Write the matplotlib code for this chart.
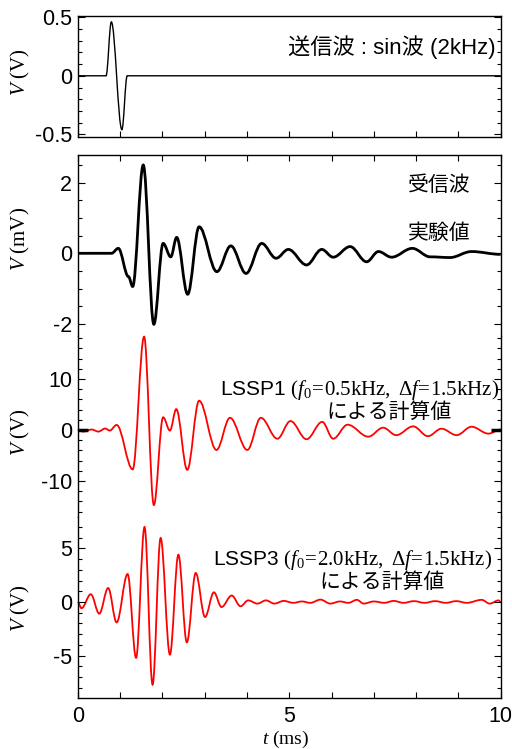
import numpy as np
import matplotlib
matplotlib.use("Agg")
import matplotlib.pyplot as plt
from matplotlib.path import Path
from matplotlib.patches import PathPatch
from matplotlib.ticker import MultipleLocator

# ---- fonts ----
plt.rcParams['font.family'] = ['Liberation Sans', 'Noto Sans CJK JP']
plt.rcParams['mathtext.fontset'] = 'custom'
plt.rcParams['mathtext.rm'] = 'Liberation Serif'
plt.rcParams['mathtext.it'] = 'Liberation Serif:italic'
plt.rcParams['axes.unicode_minus'] = False

# ---- data: turning points of each waveform (t in ms) ----
# transmitted pulse, one cycle of a 2 kHz sine
tx_t = [0.0, 0.67, 0.795, 1.045, 1.17, 10.0]
tx_v = [0.0, 0.0, 0.46, -0.46, 0.0, 0.0]

# received wave, measured (mV)
rx_t = [0.0, 0.80, 0.96, 1.20, 1.30, 1.55, 1.80, 2.02, 2.20, 2.34, 2.60, 2.87,
        3.29, 3.62, 3.98, 4.35, 4.69, 4.98, 5.41, 5.77, 6.04, 6.44, 6.83,
        7.11, 7.42, 7.91, 8.33, 8.80, 9.31, 10.0]
rx_v = [0.0, 0.0, 0.14, -0.66, -0.94, 2.50, -2.01, 0.28, -0.10, 0.45, -1.16,
        0.75, -0.52, 0.21, -0.57, 0.28, -0.14, 0.11, -0.33, 0.11, -0.11,
        0.19, -0.24, 0.05, -0.11, 0.14, -0.10, -0.12, 0.05, -0.03]

# LSSP1 calculation (V)
l1_t = [0.0, 0.13, 0.33, 0.49, 0.65, 0.76, 0.92, 1.30, 1.57, 1.80, 2.02, 2.18,
        2.33, 2.59, 2.87, 3.28, 3.60, 4.01, 4.33, 4.72, 5.03, 5.41, 5.78,
        6.04, 6.38, 6.87, 7.22, 7.53, 7.93, 8.28, 8.60, 8.96, 9.31, 9.71, 10.0]
l1_v = [0.0, -0.3, 0.1, -0.3, 0.3, -0.1, 1.0, -7.7, 18.3, -14.7, 2.5, -0.1,
        4.1, -7.8, 5.75, -3.9, 2.4, -3.9, 2.4, -1.7, 1.76, -1.8, 1.6, -1.7,
        1.05, -1.3, 0.46, -1.0, 0.72, -1.2, 0.26, -1.0, 0.65, -0.7, 0.1]

# LSSP3 calculation (V)
l3_t = [0.0, 0.09, 0.31, 0.51, 0.72, 0.92, 1.18, 1.38, 1.58, 1.77, 1.96, 2.18,
        2.38, 2.58, 2.79, 3.01, 3.22, 3.40, 3.64, 3.85, 4.03, 4.25, 4.45,
        4.65, 4.87, 5.10, 5.30, 5.50, 5.74, 5.97, 6.20, 6.40, 6.60, 6.76,
        7.00, 7.25, 7.47, 7.70, 7.95, 8.20, 8.45, 8.70, 8.95, 9.20, 9.55,
        9.74, 9.95, 10.0]
l3_v = [0.0, -0.58, 0.72, -1.09, 1.30, -1.9, 2.6, -5.2, 6.98, -7.7, 5.96,
        -4.9, 4.4, -3.76, 2.7, -1.4, 0.9, -0.47, 0.6, -0.4, 0.15, -0.15,
        0.15, -0.15, 0.10, -0.08, 0.05, -0.08, 0.22, -0.15, 0.05, -0.08,
        0.20, -0.15, 0.05, -0.08, 0.10, -0.08, 0.08, -0.08, 0.08, -0.08,
        0.08, -0.08, 0.20, -0.15, 0.15, 0.0]


def wave_path(t, v, c=0.36):
    # smooth curve through the turning points, flat tangent at each one
    verts = [(t[0], v[0])]
    codes = [Path.MOVETO]
    for i in range(len(t) - 1):
        dt = t[i + 1] - t[i]
        verts += [(t[i] + c * dt, v[i]), (t[i + 1] - c * dt, v[i + 1]),
                  (t[i + 1], v[i + 1])]
        codes += [Path.CURVE4] * 3
    return Path(verts, codes)


W, H = 512, 749
fig = plt.figure(figsize=(W / 100, H / 100), dpi=100)


def box(x0, y0, x1, y1):
    return [x0 / W, 1 - y1 / H, (x1 - x0) / W, (y1 - y0) / H]


L, R = 77.7, 500.7
ax0 = fig.add_axes(box(L, 15.7, R, 136.7))
top, bot = 155.0, 697.7
hh = (bot - top) / 3
axA = fig.add_axes(box(L, top, R, top + hh))
axB = fig.add_axes(box(L, top + hh, R, top + 2 * hh))
axC = fig.add_axes(box(L, top + 2 * hh, R, bot))

FS = 15.5
for ax in (ax0, axA, axB, axC):
    ax.set_xlim(0, 10)
    ax.xaxis.set_major_locator(MultipleLocator(5))
    ax.xaxis.set_minor_locator(MultipleLocator(1))
    ax.tick_params(which='both', direction='in', left=True, right=True,
                   width=0.8, labelsize=FS, pad=4)
    ax.tick_params(which='major', axis='y', length=5)
    ax.tick_params(which='minor', axis='y', length=3)
    ax.tick_params(which='both', axis='x', length=4.3, top=False,
                   bottom=False, labelbottom=False)
    for s in ax.spines.values():
        s.set_linewidth(1.0)

# sending pulse
ax0.set_ylim(-0.52, 0.513)
ax0.yaxis.set_minor_locator(MultipleLocator(0.1))
ax0.set_yticks([-0.5, 0, 0.5], ['-0.5', '0', '0.5'])
ax0.tick_params(which='both', axis='x', bottom=True)
ax0.add_patch(PathPatch(wave_path(tx_t, tx_v), fill=False, ec='black', lw=1.0))
ax0.text(0.987, 0.741, '送信波 : sin波 (2kHz)', transform=ax0.transAxes,
         ha='right', va='center', fontsize=16)

# received, measured
axA.set_ylim(-2.34, 2.785)
axA.set_yticks([-2, 0, 2], ['-2', '0', '2'])
axA.yaxis.set_minor_locator(MultipleLocator(0.5))
axA.spines['bottom'].set_visible(False)
axA.tick_params(which='both', axis='x', top=True)
axA.add_patch(PathPatch(wave_path(rx_t, rx_v), fill=False, ec='black', lw=2.0))
axA.text(0.854, 0.834, '受信波', transform=axA.transAxes, ha='center',
         va='center', fontsize=15)
axA.text(0.854, 0.569, '実験値', transform=axA.transAxes, ha='center',
         va='center', fontsize=15)

# LSSP1
axB.set_ylim(-17.0, 18.45)
axB.set_yticks([-10, 0, 10], ['-10', '0', '10'])
axB.yaxis.set_minor_locator(MultipleLocator(2))
axB.spines['top'].set_visible(False)
axB.spines['bottom'].set_visible(False)
axB.add_patch(PathPatch(wave_path(l1_t, l1_v), fill=False, ec='red', lw=1.3,
                        clip_on=False))
axB.text(0.996, 0.701,
         r'LSSP1 $(f_0\!=\!\mathrm{0.5kHz,}\ \Delta f\!=\!\mathrm{1.5kHz)}$',
         transform=axB.transAxes, ha='right', va='center', fontsize=15)
axB.text(0.737, 0.579, 'による計算値', transform=axB.transAxes, ha='center',
         va='center', fontsize=15)
for tk in axB.yaxis.get_major_ticks():
    if tk.get_loc() == 0:
        for ln in (tk.tick1line, tk.tick2line):
            ln.set_color('dimgray')
            ln.set_markersize(7)
            ln.set_markeredgewidth(2.5)

# LSSP3
axC.set_ylim(-8.91, 7.93)
axC.set_yticks([-5, 0, 5], ['-5', '0', '5'])
axC.yaxis.set_minor_locator(MultipleLocator(1))
axC.spines['top'].set_visible(False)
axC.tick_params(which='both', axis='x', bottom=True, labelbottom=True, pad=6)
axC.set_xticks([0, 5, 10], ['0', '5', '10'])
axC.add_patch(PathPatch(wave_path(l3_t, l3_v), fill=False, ec='red', lw=1.3,
                        clip_on=False))
axC.text(0.979, 0.761,
         r'LSSP3 $(f_0\!=\!\mathrm{2.0kHz,}\ \Delta f\!=\!\mathrm{1.5kHz)}$',
         transform=axC.transAxes, ha='right', va='center', fontsize=15)
axC.text(0.72, 0.640, 'による計算値', transform=axC.transAxes, ha='center',
         va='center', fontsize=15)

# axis titles
for yc, lab in [(72.5, r'$V\ \mathrm{(V)}$'), (239, r'$V\ \mathrm{(mV)}$'),
                (432, r'$V\ \mathrm{(V)}$'), (608, r'$V\ \mathrm{(V)}$')]:
    fig.text(20 / W, 1 - yc / H, lab, rotation=90, ha='center', va='center',
             fontsize=15)
fig.text(286 / W, 1 - 739 / H, r'$t\ \mathrm{(ms)}$', ha='center',
         va='center', fontsize=14)

fig.savefig('out.png', dpi=100)
